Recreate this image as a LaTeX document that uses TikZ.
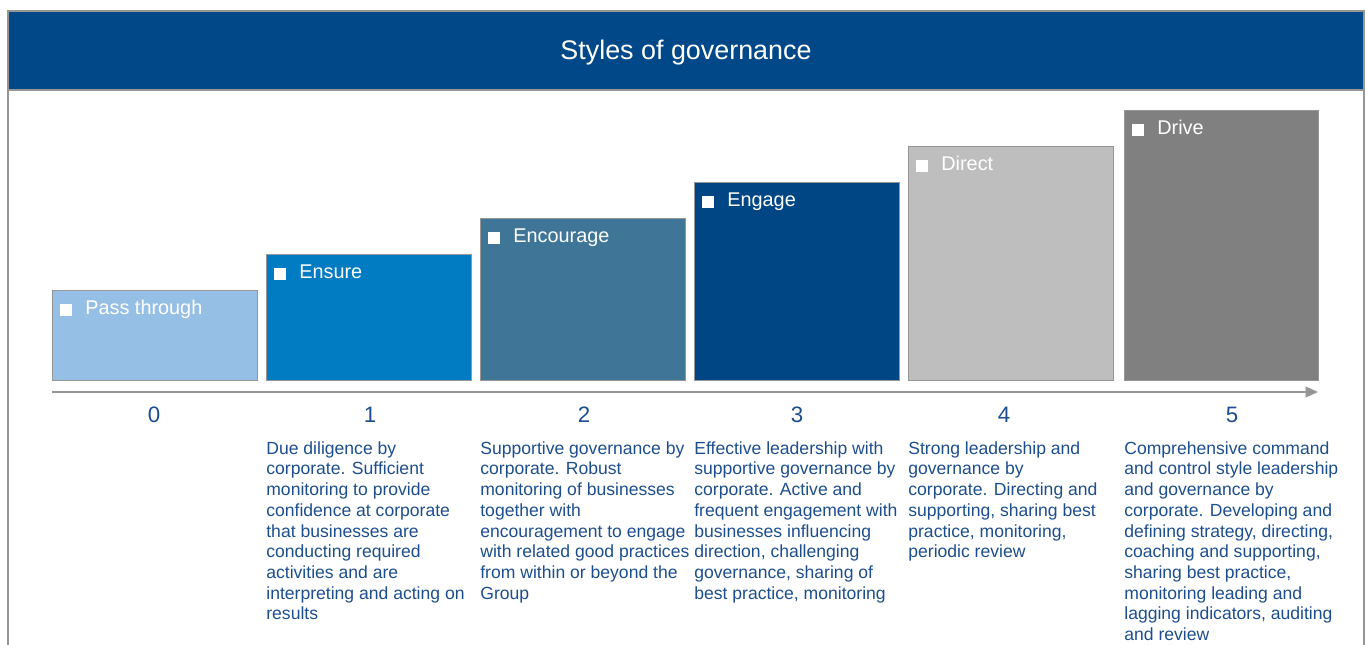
\documentclass[tikz,border=0pt]{standalone}
\usepackage{fontspec}
\setmainfont{Liberation Sans}
\usetikzlibrary{arrows.meta}

\definecolor{headblue}{RGB}{0,72,135}
\definecolor{passblue}{RGB}{150,191,229}
\definecolor{ensureblue}{RGB}{1,123,194}
\definecolor{encblue}{RGB}{63,118,152}
\definecolor{engblue}{RGB}{0,70,132}
\definecolor{directgrey}{RGB}{190,190,190}
\definecolor{drivegrey}{RGB}{128,128,128}
\definecolor{rulegrey}{RGB}{150,150,150}
\definecolor{textblue}{RGB}{28,78,142}

\tikzset{
  govbox/.style={draw=rulegrey, line width=0.8pt, anchor=south west, inner sep=0pt,
    minimum width=4.1cm},
  boxlabel/.style={anchor=base west, inner sep=0pt, text=white,
    font=\fontsize{11.3}{13}\selectfont},
  levelnum/.style={anchor=base, inner sep=0pt, text=textblue,
    font=\fontsize{12.7}{14}\selectfont},
  levelinfo/.style={anchor=north west, inner sep=0pt, align=left, text=textblue,
    font=\fontsize{10}{11.8}\selectfont},
}
\newcommand{\labsq}{\rule[-0.02cm]{0.23cm}{0.23cm}\hspace{0.27cm}}

\begin{document}
\begin{tikzpicture}[x=0.02cm, y=-0.02cm]
  \useasboundingbox (0,0) rectangle (1368,645);

  \draw[rulegrey, line width=0.9pt, fill=headblue] (8,11) rectangle (1364,90);
  \draw[rulegrey, line width=0.9pt] (8,90) -- (8,650) (1364,90) -- (1364,650);
  \node[text=white, font=\fontsize{15.3}{18}\selectfont] (title) at (686,53) {Styles of governance};

  \node[govbox, fill=passblue, minimum height=1.8cm] (b0) at (52,381) {};
  \node[govbox, fill=ensureblue, minimum height=2.52cm] (b1) at (266,381) {};
  \node[govbox, fill=encblue, minimum height=3.24cm] (b2) at (480,381) {};
  \node[govbox, fill=engblue, minimum height=3.96cm] (b3) at (694,381) {};
  \node[govbox, fill=directgrey, minimum height=4.68cm] (b4) at (908,381) {};
  \node[govbox, fill=drivegrey, minimum height=5.4cm, minimum width=3.88cm] (b5) at (1124,381) {};

  \node[boxlabel] (l0) at ([shift={(8,25)}]b0.north west) {\labsq Pass through};
  \node[boxlabel] (l1) at ([shift={(8,25)}]b1.north west) {\labsq Ensure};
  \node[boxlabel] (l2) at ([shift={(8,25)}]b2.north west) {\labsq Encourage};
  \node[boxlabel] (l3) at ([shift={(8,25)}]b3.north west) {\labsq Engage};
  \node[boxlabel] (l4) at ([shift={(8,25)}]b4.north west) {\labsq Direct};
  \node[boxlabel] (l5) at ([shift={(8,25)}]b5.north west) {\labsq Drive};

  \coordinate (ax0) at (52,392);
  \coordinate (ax1) at (1318,392);
  \draw[rulegrey, line width=0.85pt, -{Triangle[length=0.25cm, width=0.22cm]}] (ax0) -- (ax1);

  \node[levelnum] (n0) at (154,422) {0};
  \node[levelnum] (n1) at (370,422) {1};
  \node[levelnum] (n2) at (584,422) {2};
  \node[levelnum] (n3) at (797,422) {3};
  \node[levelnum] (n4) at (1004,422) {4};
  \node[levelnum] (n5) at (1232,422) {5};

  \node[levelinfo] (t1) at (266,441) {Due diligence by\\corporate. Sufficient\\monitoring to provide\\confidence at corporate\\that businesses are\\conducting required\\activities and are\\interpreting and acting on\\results};
  \node[levelinfo] (t2) at (480,441) {Supportive governance by\\corporate. Robust\\monitoring of businesses\\together with\\encouragement to engage\\with related good practices\\from within or beyond the\\Group};
  \node[levelinfo] (t3) at (694,441) {Effective leadership with\\supportive governance by\\corporate. Active and\\frequent engagement with\\businesses influencing\\direction, challenging\\governance, sharing of\\best practice, monitoring};
  \node[levelinfo] (t4) at (908,441) {Strong leadership and\\governance by\\corporate. Directing and\\supporting, sharing best\\practice, monitoring,\\periodic review};
  \node[levelinfo] (t5) at (1124,441) {Comprehensive command\\and control style leadership\\and governance by\\corporate. Developing and\\defining strategy, directing,\\coaching and supporting,\\sharing best practice,\\monitoring leading and\\lagging indicators, auditing\\and review};
\end{tikzpicture}
\end{document}
